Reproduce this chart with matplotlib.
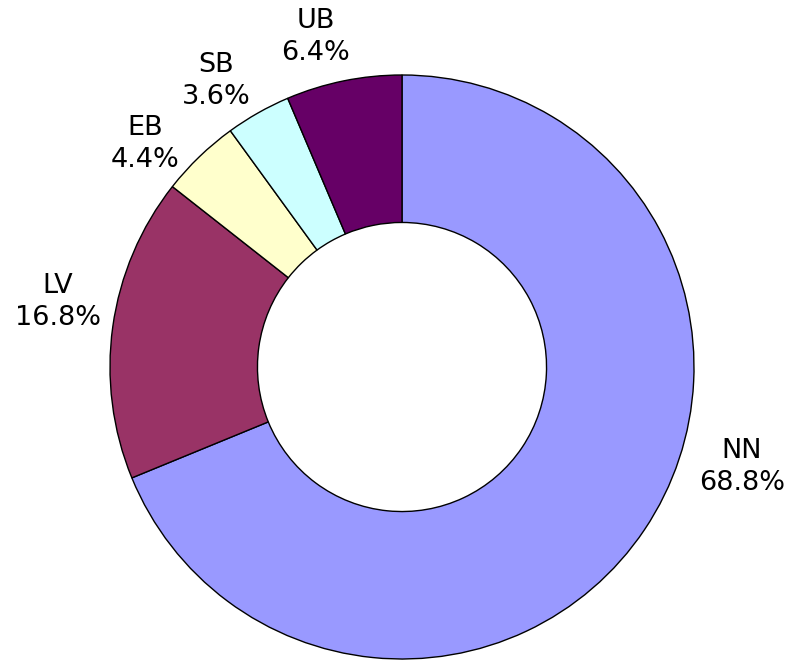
import matplotlib
matplotlib.use("Agg")
import matplotlib.pyplot as plt

labels = ["NN", "LV", "EB", "SB", "UB"]
shares = [68.8, 16.8, 4.4, 3.6, 6.4]
colors = ["#9999FF", "#993366", "#FFFFCC", "#CCFFFF", "#660066"]

# label centres (data units, radius 1 = outer ring)
label_pos = [(1.164, -0.342), (-1.178, 0.223), (-0.880, 0.764),
             (-0.637, 0.979), (-0.295, 1.130)]

fig = plt.figure(figsize=(7.95, 6.62), dpi=100)
ax = fig.add_axes([0, 0, 1, 1])

ax.pie(shares, colors=colors, startangle=90, counterclock=False,
       radius=1.0,
       wedgeprops=dict(width=0.505, edgecolor="black", linewidth=1.0))

for lab, val, (x, y) in zip(labels, shares, label_pos):
    ax.text(x, y, f"{lab}\n{val:.1f}%", ha="center", va="center",
            fontsize=19.5, family="DejaVu Sans", linespacing=1.3)

ax.set_xlim(-402 / 292, (795 - 402) / 292)
ax.set_ylim((367 - 662) / 292, 367 / 292)
ax.set_aspect("auto")
ax.axis("off")

fig.savefig("out.png", dpi=100)
